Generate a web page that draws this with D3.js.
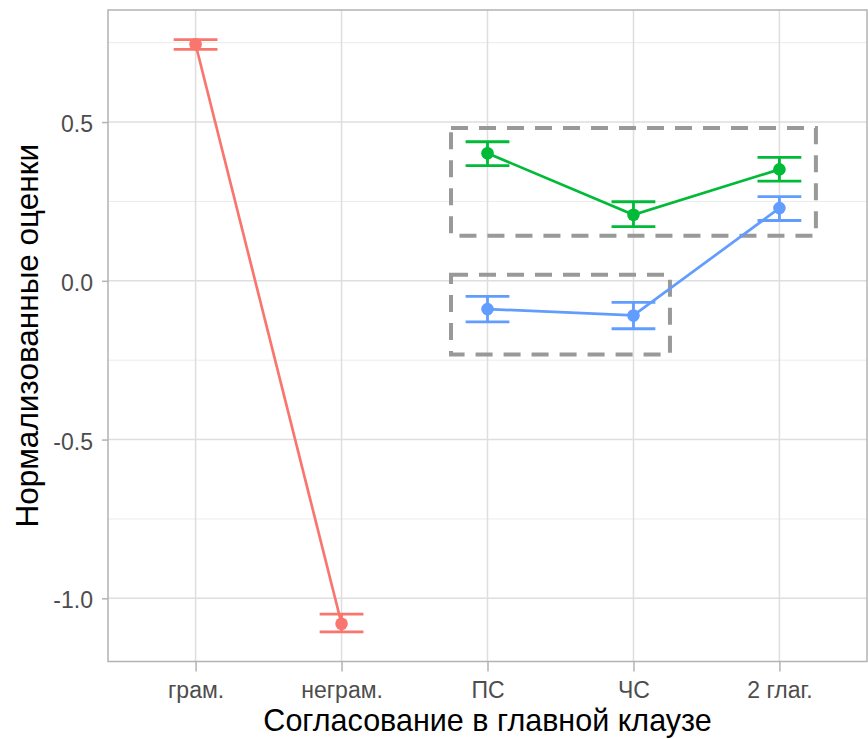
<!DOCTYPE html>
<html>
<head>
<meta charset="utf-8">
<script src="https://d3js.org/d3.v7.min.js"></script>
<style>
  body { margin: 0; background: #fff; }
  text { font-family: "Liberation Sans", Arial, sans-serif; }
</style>
</head>
<body>
<svg id="chart" width="868" height="739"></svg>
<script>
    // categories on x
    var categories = ["грам.", "неграм.", "ПС", "ЧС", "2 глаг."];

    // red series: grammatical / ungrammatical
    var redCats = ["грам.", "неграм."];
    var redMean = [0.745, -1.080];
    var redLow  = [0.729, -1.106];
    var redHigh = [0.760, -1.050];

    // green series
    var greenCats = ["ПС", "ЧС", "2 глаг."];
    var greenMean = [0.402, 0.208, 0.351];
    var greenLow  = [0.363, 0.171, 0.314];
    var greenHigh = [0.438, 0.249, 0.389];

    // blue series
    var blueCats = ["ПС", "ЧС", "2 глаг."];
    var blueMean = [-0.089, -0.109, 0.229];
    var blueLow  = [-0.129, -0.151, 0.190];
    var blueHigh = [-0.049, -0.068, 0.265];

    // dashed boxes (x in category index units, 1-based)
    var boxX0 = [2.75, 2.75];
    var boxX1 = [5.25, 4.25];
    var boxY0 = [0.142, -0.232];
    var boxY1 = [0.481, 0.019];

    var yTicks = [-1.0, -0.5, 0.0, 0.5];
    var yTickLabels = ["-1.0", "-0.5", "0.0", "0.5"];
    var yMinor = [-0.75, -0.25, 0.25, 0.75];

    var svg = d3.select("#chart");
    var pLeft = 108, pRight = 867, pTop = 10, pBottom = 661.5;

    var x = d3.scaleLinear().domain([0.4, 5.6]).range([pLeft, pRight]);
    var y = d3.scaleLinear().domain([-1.199, 0.853]).range([pBottom, pTop]);
    var xc = function(c) { return x(categories.indexOf(c) + 1); };

    var grid = svg.append("g");
    grid.selectAll(".minor").data(yMinor).enter().append("line")
        .attr("x1", pLeft).attr("x2", pRight)
        .attr("y1", d => y(d)).attr("y2", d => y(d))
        .attr("stroke", "#ebebeb").attr("stroke-width", 1);
    grid.selectAll(".major").data(yTicks).enter().append("line")
        .attr("x1", pLeft).attr("x2", pRight)
        .attr("y1", d => y(d)).attr("y2", d => y(d))
        .attr("stroke", "#dedede").attr("stroke-width", 1.5);
    grid.selectAll(".vx").data(categories).enter().append("line")
        .attr("x1", d => xc(d)).attr("x2", d => xc(d))
        .attr("y1", pTop).attr("y2", pBottom)
        .attr("stroke", "#dedede").attr("stroke-width", 1.5);

    // dashed boxes
    svg.selectAll(".box").data(boxX0).enter().append("rect")
        .attr("x", (d, i) => x(boxX0[i]))
        .attr("y", (d, i) => y(boxY1[i]))
        .attr("width", (d, i) => x(boxX1[i]) - x(boxX0[i]))
        .attr("height", (d, i) => y(boxY0[i]) - y(boxY1[i]))
        .attr("fill", "none").attr("stroke", "#999999")
        .attr("stroke-width", 4).attr("stroke-dasharray", "17,11");

    function drawSeries(cats, mean, low, high, color) {
        var g = svg.append("g");
        var line = d3.line().x((d, i) => xc(cats[i])).y(d => y(d));
        g.append("path").datum(mean).attr("d", line)
            .attr("fill", "none").attr("stroke", color).attr("stroke-width", 2.7);
        var half = (x(1.15) - x(1));
        cats.forEach(function(c, i) {
            var cx = xc(c);
            g.append("line").attr("x1", cx).attr("x2", cx)
                .attr("y1", y(low[i])).attr("y2", y(high[i]))
                .attr("stroke", color).attr("stroke-width", 2.8);
            [low[i], high[i]].forEach(function(v) {
                g.append("line").attr("x1", cx - half).attr("x2", cx + half)
                    .attr("y1", y(v)).attr("y2", y(v))
                    .attr("stroke", color).attr("stroke-width", 2.8);
            });
        });
        g.selectAll("circle").data(mean).enter().append("circle")
            .attr("cx", (d, i) => xc(cats[i])).attr("cy", d => y(d))
            .attr("r", 6.3).attr("fill", color);
    }

    drawSeries(redCats, redMean, redLow, redHigh, "#F8766D");
    drawSeries(blueCats, blueMean, blueLow, blueHigh, "#619CFF");
    drawSeries(greenCats, greenMean, greenLow, greenHigh, "#00BA38");

    // panel border
    svg.append("rect").attr("x", pLeft).attr("y", pTop)
        .attr("width", pRight - pLeft).attr("height", pBottom - pTop)
        .attr("fill", "none").attr("stroke", "#b3b3b3").attr("stroke-width", 1.5);

    // axes
    var yAxis = svg.append("g").attr("transform", "translate(" + pLeft + ",0)")
        .call(d3.axisLeft(y).tickValues(yTicks).tickFormat((d, i) => yTickLabels[i]).tickSize(6).tickPadding(9));
    var xAxis = svg.append("g").attr("transform", "translate(0," + pBottom + ")")
        .call(d3.axisBottom(x).tickValues(d3.range(1, 6)).tickFormat(d => categories[d - 1]).tickSize(10).tickPadding(10));
    [yAxis, xAxis].forEach(function(a) {
        a.select(".domain").remove();
        a.selectAll(".tick line").attr("stroke", "#b3b3b3").attr("stroke-width", 1.5);
        a.selectAll(".tick text").attr("fill", "#4d4d4d").style("font-size", "23px");
    });
    yAxis.selectAll(".tick text").attr("dy", "0.42em");

    svg.append("text").attr("x", (pLeft + pRight) / 2).attr("y", 731)
        .attr("text-anchor", "middle").style("font-size", "30.5px").attr("fill", "#000")
        .text("Согласование в главной клаузе");
    svg.append("text").attr("transform", "translate(38," + (pTop + pBottom) / 2 + ") rotate(-90)")
        .attr("text-anchor", "middle").style("font-size", "31.5px").attr("fill", "#000")
        .text("Нормализованные оценки");
</script>
</body>
</html>
